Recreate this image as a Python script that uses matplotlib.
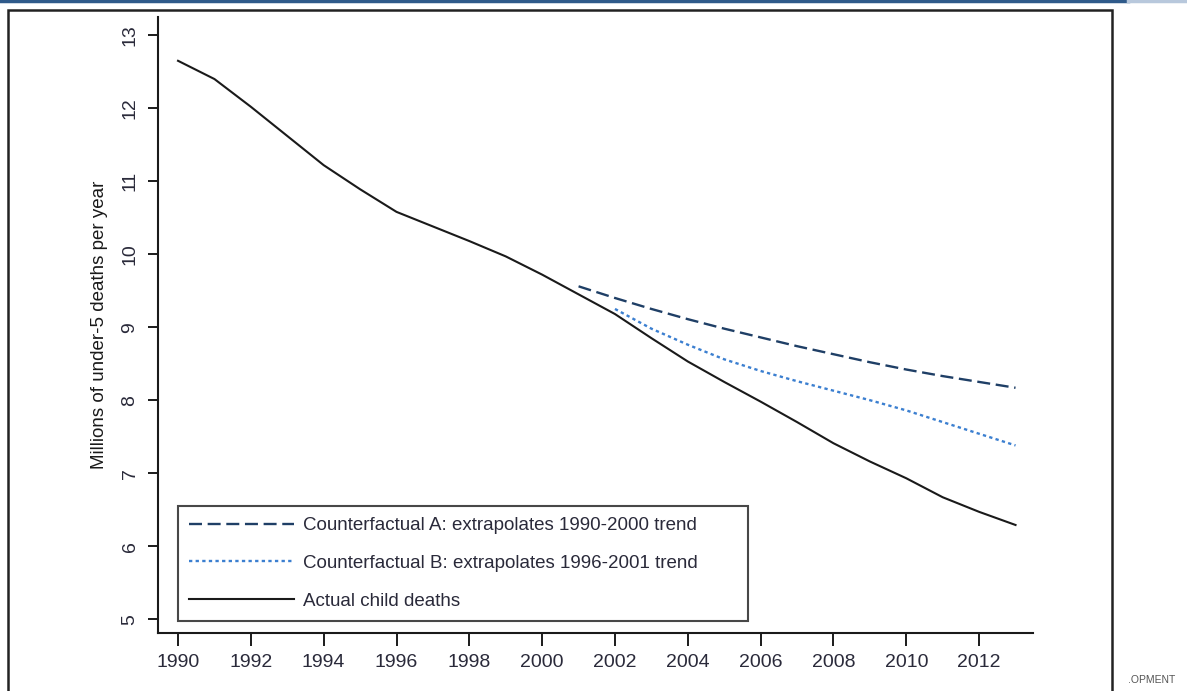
import matplotlib
matplotlib.use("Agg")
import matplotlib.pyplot as plt
from matplotlib.patches import Rectangle
from matplotlib.lines import Line2D

plt.rcParams['font.family'] = ['Liberation Sans', 'DejaVu Sans']

# ---- data ----
years_actual = [1990, 1991, 1992, 1993, 1994, 1995, 1996, 1997, 1998, 1999, 2000, 2001,
                2002, 2003, 2004, 2005, 2006, 2007, 2008, 2009, 2010, 2011, 2012, 2013]
actual = [12.65, 12.40, 12.02, 11.62, 11.22, 10.89, 10.58, 10.38, 10.18, 9.97, 9.72, 9.45,
          9.18, 8.85, 8.53, 8.25, 7.98, 7.70, 7.41, 7.16, 6.93, 6.67, 6.47, 6.29]

years_a = [2001, 2002, 2003, 2004, 2005, 2006, 2007, 2008, 2009, 2010, 2011, 2012, 2013]
counter_a = [9.56, 9.40, 9.25, 9.11, 8.98, 8.86, 8.74, 8.63, 8.52, 8.42, 8.33, 8.25, 8.17]

years_b = [2002, 2003, 2004, 2005, 2006, 2007, 2008, 2009, 2010, 2011, 2012, 2013]
counter_b = [9.25, 8.98, 8.76, 8.56, 8.40, 8.26, 8.13, 8.00, 7.86, 7.70, 7.54, 7.38]

labels = ["Counterfactual A: extrapolates 1990-2000 trend",
          "Counterfactual B: extrapolates 1996-2001 trend",
          "Actual child deaths"]
xticks = list(range(1990, 2013, 2))
yticks = list(range(5, 14))

W, H = 1187, 691
fig = plt.figure(figsize=(W / 100, H / 100), dpi=100)
fig.patch.set_facecolor('white')

# page decorations
fig.add_artist(Rectangle((8 / W, -0.02), (1112 - 8) / W, 1 - 10 / H + 0.02,
                         transform=fig.transFigure, fill=False, edgecolor='#222222', lw=1.8))
fig.add_artist(Line2D([0, 1128 / W], [1 - 1 / H, 1 - 1 / H], transform=fig.transFigure,
                      color='#2f5a8a', lw=2.5))
fig.add_artist(Line2D([1128 / W, 1], [1 - 1 / H, 1 - 1 / H], transform=fig.transFigure,
                      color='#b8c8dc', lw=2.5))
fig.text(1128 / W, 1 - 680 / H, ".OPMENT", fontsize=7.5, color='#555555', ha='left', va='center')

ax = fig.add_axes([158 / W, (H - 633) / H, (1033 - 158) / W, (633 - 17) / H])
ax.set_xlim(1989.45, 2013.48)
ax.set_ylim(4.81, 13.25)

l_a, = ax.plot(years_a, counter_a, color='#1f3f66', lw=1.7, dashes=(5.5, 2.4))
l_b, = ax.plot(years_b, counter_b, color='#3b7fd0', lw=1.7, dashes=(1.4, 1.4))
l_act, = ax.plot(years_actual, actual, color='#1a1a1a', lw=1.5)

for s in ['top', 'right']:
    ax.spines[s].set_visible(False)
for s in ['left', 'bottom']:
    ax.spines[s].set_linewidth(1.5)
    ax.spines[s].set_color('#1a1a1a')

ax.set_xticks(xticks)
ax.set_yticks(yticks)
ax.tick_params(axis='x', length=9, width=1.4, labelsize=14, pad=6, colors='#1a1a1a', labelcolor='#2a2a3a')
ax.tick_params(axis='y', length=7, width=1.4, labelsize=14, pad=7, colors='#1a1a1a', labelcolor='#2a2a3a')
for lab in ax.get_yticklabels():
    lab.set_rotation(90)
    lab.set_va('center')
ax.set_ylabel("Millions of under-5 deaths per year", fontsize=13.5, color='#1a1a1a', labelpad=10)

leg = ax.legend([l_a, l_b, l_act], labels, loc='lower left',
                bbox_to_anchor=(20 / 875, 12 / 616, 570 / 875, 116 / 616), mode='expand',
                fontsize=13.5, frameon=True, fancybox=False, edgecolor='#1a1a1a',
                handlelength=5.6, handletextpad=0.45, labelspacing=1.1, borderpad=0.6,
                borderaxespad=0)
leg.get_frame().set_linewidth(1.5)
for t in leg.get_texts():
    t.set_color('#2a2a3a')

fig.savefig("out.png", dpi=100, facecolor='white')
